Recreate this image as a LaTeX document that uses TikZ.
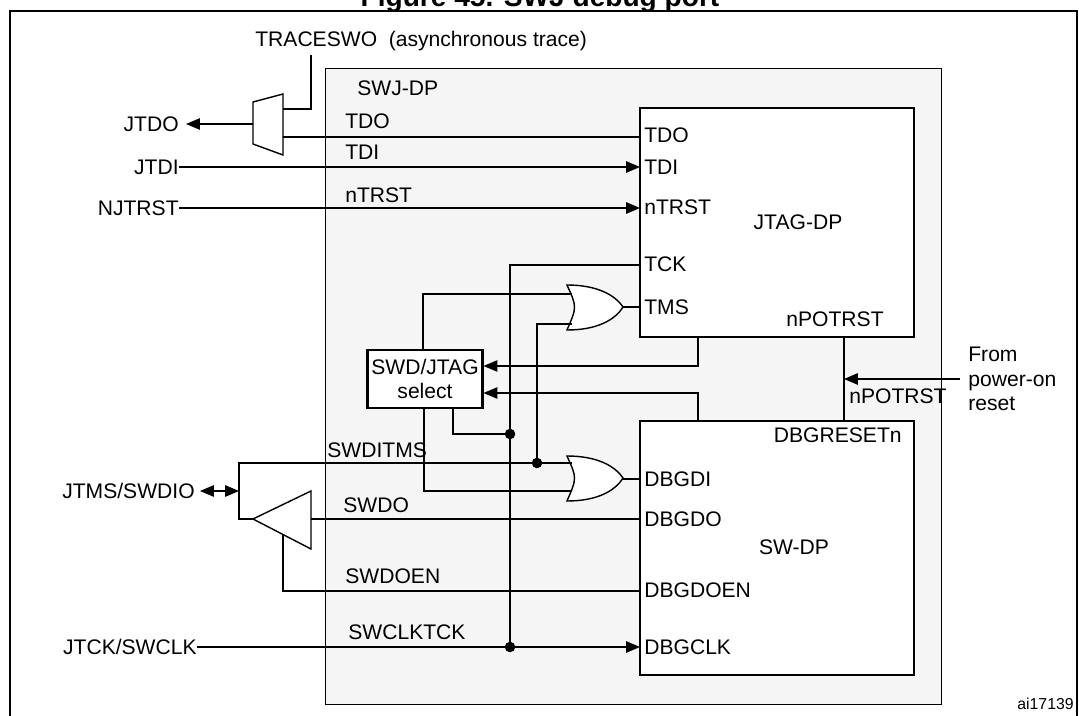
\documentclass[tikz,border=0pt]{standalone}
\usepackage{fontspec}
\setmainfont{Liberation Sans}
\usetikzlibrary{positioning,arrows,calc}
\definecolor{swjgray}{RGB}{245,245,245}

\begin{document}
\begin{tikzpicture}[x=0.02cm, y=-0.02cm, font=\fontsize{12}{14}\selectfont,
    wire/.style={thick},
    sig/.style={thick,-triangle 45},
    blk/.style={draw, very thick, fill=white},
    lbl/.style={inner sep=0pt, anchor=base west},
    pin/.style={inner sep=0pt, anchor=west},
    dot/.style={circle, fill, inner sep=0pt, minimum size=6pt},
    orgate/.pic={
      \draw[thick, fill=white] (0,0) .. controls (10,22) .. (0,45)
        .. controls (30,45) and (48,35) .. (56,22)
        .. controls (48,10) and (30,0) .. cycle;
    }]
\useasboundingbox (0,0) rectangle (1079,716);
\node[font=\bfseries\fontsize{16}{18}\selectfont, anchor=base] (title) at (540,7) {Figure 45. SWJ debug port};
\draw[thick] (10,716) -- (10,11) -- (1077,11) -- (1077,716);
% boxes
\draw[fill=swjgray] (325,68) rectangle (941,704);
\node[lbl] (swjdp) at (357,96) {SWJ-DP};
\draw[blk] (640,108) rectangle (914,337);
\node (jtagdp) at (798,222) {JTAG-DP};
\draw[blk] (640,421) rectangle (914,675);
\node (swdp) at (794,547) {SW-DP};
\node[blk, minimum width=2.3cm, minimum height=1.16cm, align=center, inner sep=1pt] (sel) at (425,379) {SWD/JTAG\\select};
% gates
\pic at (567,285) {orgate};
\pic at (567,456) {orgate};
\draw[thick, fill=white] (253,102) -- (283,94) -- (283,155) -- (253,144) -- cycle;
\draw[thick, fill=white] (253,519) -- (311,491) -- (311,549) -- cycle;
% pins
\foreach \t/\y in {TDO/135, TDI/167, nTRST/207, TCK/264, TMS/307, DBGDI/479, DBGDO/519, DBGDOEN/590, DBGCLK/647}
  \node[pin] (p\t) at (644,\y) {\t};
\node[inner sep=0pt, anchor=base east] (npin) at (884,327) {nPOTRST};
\node[inner sep=0pt, anchor=base east] (dbgres) at (902,442) {DBGRESETn};
% outer signals
\node[inner sep=0pt, anchor=east] (jtdo) at (179,124) {JTDO};
\node[inner sep=0pt, anchor=east] (jtdi) at (179,167) {JTDI};
\node[inner sep=0pt, anchor=east] (njtrst) at (179,208) {NJTRST};
\node[inner sep=0pt, anchor=east] (jtms) at (195,491) {JTMS/SWDIO};
\node[inner sep=0pt, anchor=east] (jtck) at (197,647) {JTCK/SWCLK};
\node[inner sep=0pt, anchor=base west] (traceswo) at (255,47) {TRACESWO\ \ (asynchronous trace)};
\node[inner sep=0pt, anchor=west, align=left] (por) at (968,379) {From\\power-on\\reset};
\node[inner sep=0pt, anchor=base west] (nporlbl) at (849,403) {nPOTRST};
\node[font=\fontsize{9}{11}\selectfont, inner sep=0pt, anchor=base east] (ai) at (1074,709) {ai17139};
% wire labels
\foreach \t/\x/\y in {TDO/345/129, TDI/345/160, nTRST/345/203, SWDITMS/327/457, SWDO/343/512, SWDOEN/345/583, SWCLKTCK/348/639}
  \node[lbl] (l\t) at (\x,\y) {\t};
% JTAG side
\draw[sig, shorten >=4pt] (253,124) -- (jtdo.east);
\draw[wire] (311,55) -- (311,109) -- (283,109);
\draw[wire] (283,137) -- (640,137);
\draw[sig] (jtdi.east) -- (640,167);
\draw[sig] (njtrst.east) -- (640,208);
\draw[wire] (640,265) -- (510,265) -- (510,647);
\draw[wire] (623,307) -- (640,307);
% select logic
\draw[wire] (423,350) -- (423,294) -- (572,294);
\draw[wire] (572,324) -- (537,324) -- (537,463);
\draw[wire] (424,408) -- (424,491) -- (572,491);
\draw[wire] (453,408) -- (453,434) -- (510,434);
\node[dot] (d1) at (510,434) {};
\node[dot] (d2) at (537,463) {};
\node[dot] (d3) at (510,647) {};
\draw[sig] (698,337) -- (698,366) -- (sel.east |- 0,366);
\draw[sig] (698,421) -- (698,393) -- (sel.east |- 0,393);
\draw[wire] (623,479) -- (640,479);
% SWD side
\draw[wire] (572,463) -- (239,463) -- (239,519) -- (255,519);
\draw[thick,triangle 45-triangle 45] (200,491) -- (239,491);
\draw[wire] (640,519) -- (311,519);
\draw[wire] (283,535) -- (283,591) -- (640,591);
\draw[sig] (jtck.east) -- (640,647);
% reset
\draw[wire] (844,337) -- (844,421);
\draw[sig] (960,379) -- (844,379);
\end{tikzpicture}
\end{document}
